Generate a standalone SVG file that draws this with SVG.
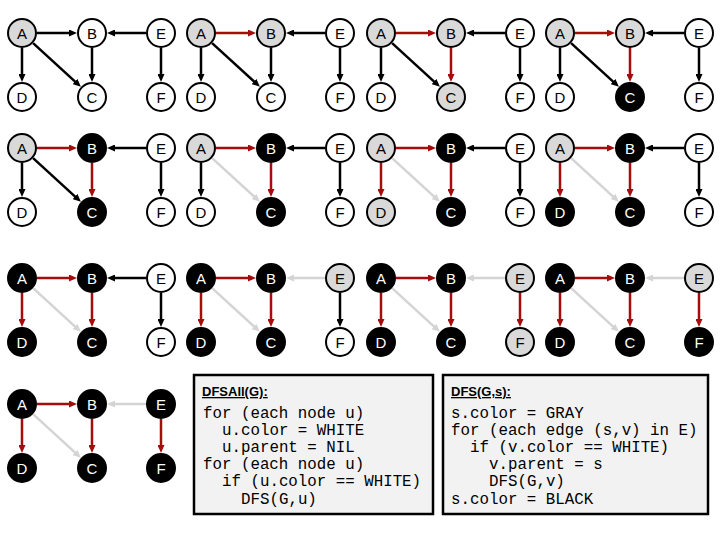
<svg xmlns="http://www.w3.org/2000/svg" width="720" height="540" viewBox="0 0 720 540">
<style>
.n circle{stroke:#000;stroke-width:2}
.n text{font-family:"Liberation Sans",Arial,sans-serif;font-size:15px;text-anchor:middle}
.w circle{fill:#fff}.w text{fill:#000}
.g circle{fill:#d9d9d9}.g text{fill:#000}
.k circle{fill:#000}.k text{fill:#fff}
.e{stroke:#000;stroke-width:2.5;marker-end:url(#ak)}
.r{stroke:#a50d0d;stroke-width:2.5;marker-end:url(#ar)}
.l{stroke:#d4d4d4;stroke-width:2.5;marker-end:url(#al)}
.box{fill:#f2f2f2;stroke:#000;stroke-width:2.5}
.hd{font-family:"Liberation Sans",Arial,sans-serif;font-size:13px;font-weight:bold;text-decoration:underline}
.code{font-family:"Liberation Mono","Courier New",monospace;font-size:15.8px;fill:#000}
</style>
<defs>
<marker id="ak" markerUnits="userSpaceOnUse" markerWidth="8" markerHeight="7" refX="2" refY="3.5" orient="auto"><path d="M0,0 L8,3.5 L0,7z" fill="#000"/></marker>
<marker id="ar" markerUnits="userSpaceOnUse" markerWidth="8" markerHeight="7" refX="2" refY="3.5" orient="auto"><path d="M0,0 L8,3.5 L0,7z" fill="#a50d0d"/></marker>
<marker id="al" markerUnits="userSpaceOnUse" markerWidth="8" markerHeight="7" refX="2" refY="3.5" orient="auto"><path d="M0,0 L8,3.5 L0,7z" fill="#d4d4d4"/></marker>
</defs>
<rect width="720" height="540" fill="#fff"/>
<g id="connectors">
<g transform="translate(22,33)"><line class="e" x1="15" y1="0" x2="49" y2="0"/><line class="e" x1="124" y1="0" x2="91" y2="0"/><line class="e" x1="0" y1="15" x2="0" y2="43"/><line class="e" x1="70" y1="15" x2="70" y2="43"/><line class="e" x1="139" y1="15" x2="139" y2="43"/><line class="e" x1="11.1" y1="10.1" x2="54.5" y2="49.8"/></g>
<g transform="translate(201,33)"><line class="r" x1="15" y1="0" x2="49" y2="0"/><line class="e" x1="124" y1="0" x2="91" y2="0"/><line class="e" x1="0" y1="15" x2="0" y2="43"/><line class="e" x1="70" y1="15" x2="70" y2="43"/><line class="e" x1="139" y1="15" x2="139" y2="43"/><line class="e" x1="11.1" y1="10.1" x2="54.5" y2="49.8"/></g>
<g transform="translate(381,33)"><line class="r" x1="15" y1="0" x2="49" y2="0"/><line class="e" x1="124" y1="0" x2="91" y2="0"/><line class="e" x1="0" y1="15" x2="0" y2="43"/><line class="r" x1="70" y1="15" x2="70" y2="43"/><line class="e" x1="139" y1="15" x2="139" y2="43"/><line class="e" x1="11.1" y1="10.1" x2="54.5" y2="49.8"/></g>
<g transform="translate(560,33)"><line class="r" x1="15" y1="0" x2="49" y2="0"/><line class="e" x1="124" y1="0" x2="91" y2="0"/><line class="e" x1="0" y1="15" x2="0" y2="43"/><line class="r" x1="70" y1="15" x2="70" y2="43"/><line class="e" x1="139" y1="15" x2="139" y2="43"/><line class="e" x1="11.1" y1="10.1" x2="54.5" y2="49.8"/></g>
<g transform="translate(22,148)"><line class="r" x1="15" y1="0" x2="49" y2="0"/><line class="e" x1="124" y1="0" x2="91" y2="0"/><line class="e" x1="0" y1="15" x2="0" y2="43"/><line class="r" x1="70" y1="15" x2="70" y2="43"/><line class="e" x1="139" y1="15" x2="139" y2="43"/><line class="e" x1="11.1" y1="10.1" x2="54.5" y2="49.8"/></g>
<g transform="translate(201,148)"><line class="r" x1="15" y1="0" x2="49" y2="0"/><line class="e" x1="124" y1="0" x2="91" y2="0"/><line class="e" x1="0" y1="15" x2="0" y2="43"/><line class="r" x1="70" y1="15" x2="70" y2="43"/><line class="e" x1="139" y1="15" x2="139" y2="43"/><line class="l" x1="11.1" y1="10.1" x2="54.5" y2="49.8"/></g>
<g transform="translate(381,148)"><line class="r" x1="15" y1="0" x2="49" y2="0"/><line class="e" x1="124" y1="0" x2="91" y2="0"/><line class="r" x1="0" y1="15" x2="0" y2="43"/><line class="r" x1="70" y1="15" x2="70" y2="43"/><line class="e" x1="139" y1="15" x2="139" y2="43"/><line class="l" x1="11.1" y1="10.1" x2="54.5" y2="49.8"/></g>
<g transform="translate(560,148)"><line class="r" x1="15" y1="0" x2="49" y2="0"/><line class="e" x1="124" y1="0" x2="91" y2="0"/><line class="r" x1="0" y1="15" x2="0" y2="43"/><line class="r" x1="70" y1="15" x2="70" y2="43"/><line class="e" x1="139" y1="15" x2="139" y2="43"/><line class="l" x1="11.1" y1="10.1" x2="54.5" y2="49.8"/></g>
<g transform="translate(22,278)"><line class="r" x1="15" y1="0" x2="49" y2="0"/><line class="e" x1="124" y1="0" x2="91" y2="0"/><line class="r" x1="0" y1="15" x2="0" y2="43"/><line class="r" x1="70" y1="15" x2="70" y2="43"/><line class="e" x1="139" y1="15" x2="139" y2="43"/><line class="l" x1="11.1" y1="10.1" x2="54.5" y2="49.8"/></g>
<g transform="translate(201,278)"><line class="r" x1="15" y1="0" x2="49" y2="0"/><line class="l" x1="124" y1="0" x2="91" y2="0"/><line class="r" x1="0" y1="15" x2="0" y2="43"/><line class="r" x1="70" y1="15" x2="70" y2="43"/><line class="e" x1="139" y1="15" x2="139" y2="43"/><line class="l" x1="11.1" y1="10.1" x2="54.5" y2="49.8"/></g>
<g transform="translate(381,278)"><line class="r" x1="15" y1="0" x2="49" y2="0"/><line class="l" x1="124" y1="0" x2="91" y2="0"/><line class="r" x1="0" y1="15" x2="0" y2="43"/><line class="r" x1="70" y1="15" x2="70" y2="43"/><line class="r" x1="139" y1="15" x2="139" y2="43"/><line class="l" x1="11.1" y1="10.1" x2="54.5" y2="49.8"/></g>
<g transform="translate(560,278)"><line class="r" x1="15" y1="0" x2="49" y2="0"/><line class="l" x1="124" y1="0" x2="91" y2="0"/><line class="r" x1="0" y1="15" x2="0" y2="43"/><line class="r" x1="70" y1="15" x2="70" y2="43"/><line class="r" x1="139" y1="15" x2="139" y2="43"/><line class="l" x1="11.1" y1="10.1" x2="54.5" y2="49.8"/></g>
<g transform="translate(22,404)"><line class="r" x1="15" y1="0" x2="49" y2="0"/><line class="l" x1="124" y1="0" x2="91" y2="0"/><line class="r" x1="0" y1="15" x2="0" y2="43"/><line class="r" x1="70" y1="15" x2="70" y2="43"/><line class="r" x1="139" y1="15" x2="139" y2="43"/><line class="l" x1="11.1" y1="10.1" x2="54.5" y2="49.8"/></g>
</g>
<g id="panel1" transform="translate(22,33)">
<g id="p1-A" class="n g"><circle cx="0" cy="0" r="14"/><text x="0" y="5.5">A</text></g>
<g id="p1-B" class="n w"><circle cx="70" cy="0" r="14"/><text x="70" y="5.5">B</text></g>
<g id="p1-E" class="n w"><circle cx="139" cy="0" r="14"/><text x="139" y="5.5">E</text></g>
<g id="p1-D" class="n w"><circle cx="0" cy="64" r="14"/><text x="0" y="69.5">D</text></g>
<g id="p1-C" class="n w"><circle cx="70" cy="64" r="14"/><text x="70" y="69.5">C</text></g>
<g id="p1-F" class="n w"><circle cx="139" cy="64" r="14"/><text x="139" y="69.5">F</text></g>
</g>
<g id="panel2" transform="translate(201,33)">
<g id="p2-A" class="n g"><circle cx="0" cy="0" r="14"/><text x="0" y="5.5">A</text></g>
<g id="p2-B" class="n g"><circle cx="70" cy="0" r="14"/><text x="70" y="5.5">B</text></g>
<g id="p2-E" class="n w"><circle cx="139" cy="0" r="14"/><text x="139" y="5.5">E</text></g>
<g id="p2-D" class="n w"><circle cx="0" cy="64" r="14"/><text x="0" y="69.5">D</text></g>
<g id="p2-C" class="n w"><circle cx="70" cy="64" r="14"/><text x="70" y="69.5">C</text></g>
<g id="p2-F" class="n w"><circle cx="139" cy="64" r="14"/><text x="139" y="69.5">F</text></g>
</g>
<g id="panel3" transform="translate(381,33)">
<g id="p3-A" class="n g"><circle cx="0" cy="0" r="14"/><text x="0" y="5.5">A</text></g>
<g id="p3-B" class="n g"><circle cx="70" cy="0" r="14"/><text x="70" y="5.5">B</text></g>
<g id="p3-E" class="n w"><circle cx="139" cy="0" r="14"/><text x="139" y="5.5">E</text></g>
<g id="p3-D" class="n w"><circle cx="0" cy="64" r="14"/><text x="0" y="69.5">D</text></g>
<g id="p3-C" class="n g"><circle cx="70" cy="64" r="14"/><text x="70" y="69.5">C</text></g>
<g id="p3-F" class="n w"><circle cx="139" cy="64" r="14"/><text x="139" y="69.5">F</text></g>
</g>
<g id="panel4" transform="translate(560,33)">
<g id="p4-A" class="n g"><circle cx="0" cy="0" r="14"/><text x="0" y="5.5">A</text></g>
<g id="p4-B" class="n g"><circle cx="70" cy="0" r="14"/><text x="70" y="5.5">B</text></g>
<g id="p4-E" class="n w"><circle cx="139" cy="0" r="14"/><text x="139" y="5.5">E</text></g>
<g id="p4-D" class="n w"><circle cx="0" cy="64" r="14"/><text x="0" y="69.5">D</text></g>
<g id="p4-C" class="n k"><circle cx="70" cy="64" r="14"/><text x="70" y="69.5">C</text></g>
<g id="p4-F" class="n w"><circle cx="139" cy="64" r="14"/><text x="139" y="69.5">F</text></g>
</g>
<g id="panel5" transform="translate(22,148)">
<g id="p5-A" class="n g"><circle cx="0" cy="0" r="14"/><text x="0" y="5.5">A</text></g>
<g id="p5-B" class="n k"><circle cx="70" cy="0" r="14"/><text x="70" y="5.5">B</text></g>
<g id="p5-E" class="n w"><circle cx="139" cy="0" r="14"/><text x="139" y="5.5">E</text></g>
<g id="p5-D" class="n w"><circle cx="0" cy="64" r="14"/><text x="0" y="69.5">D</text></g>
<g id="p5-C" class="n k"><circle cx="70" cy="64" r="14"/><text x="70" y="69.5">C</text></g>
<g id="p5-F" class="n w"><circle cx="139" cy="64" r="14"/><text x="139" y="69.5">F</text></g>
</g>
<g id="panel6" transform="translate(201,148)">
<g id="p6-A" class="n g"><circle cx="0" cy="0" r="14"/><text x="0" y="5.5">A</text></g>
<g id="p6-B" class="n k"><circle cx="70" cy="0" r="14"/><text x="70" y="5.5">B</text></g>
<g id="p6-E" class="n w"><circle cx="139" cy="0" r="14"/><text x="139" y="5.5">E</text></g>
<g id="p6-D" class="n w"><circle cx="0" cy="64" r="14"/><text x="0" y="69.5">D</text></g>
<g id="p6-C" class="n k"><circle cx="70" cy="64" r="14"/><text x="70" y="69.5">C</text></g>
<g id="p6-F" class="n w"><circle cx="139" cy="64" r="14"/><text x="139" y="69.5">F</text></g>
</g>
<g id="panel7" transform="translate(381,148)">
<g id="p7-A" class="n g"><circle cx="0" cy="0" r="14"/><text x="0" y="5.5">A</text></g>
<g id="p7-B" class="n k"><circle cx="70" cy="0" r="14"/><text x="70" y="5.5">B</text></g>
<g id="p7-E" class="n w"><circle cx="139" cy="0" r="14"/><text x="139" y="5.5">E</text></g>
<g id="p7-D" class="n g"><circle cx="0" cy="64" r="14"/><text x="0" y="69.5">D</text></g>
<g id="p7-C" class="n k"><circle cx="70" cy="64" r="14"/><text x="70" y="69.5">C</text></g>
<g id="p7-F" class="n w"><circle cx="139" cy="64" r="14"/><text x="139" y="69.5">F</text></g>
</g>
<g id="panel8" transform="translate(560,148)">
<g id="p8-A" class="n g"><circle cx="0" cy="0" r="14"/><text x="0" y="5.5">A</text></g>
<g id="p8-B" class="n k"><circle cx="70" cy="0" r="14"/><text x="70" y="5.5">B</text></g>
<g id="p8-E" class="n w"><circle cx="139" cy="0" r="14"/><text x="139" y="5.5">E</text></g>
<g id="p8-D" class="n k"><circle cx="0" cy="64" r="14"/><text x="0" y="69.5">D</text></g>
<g id="p8-C" class="n k"><circle cx="70" cy="64" r="14"/><text x="70" y="69.5">C</text></g>
<g id="p8-F" class="n w"><circle cx="139" cy="64" r="14"/><text x="139" y="69.5">F</text></g>
</g>
<g id="panel9" transform="translate(22,278)">
<g id="p9-A" class="n k"><circle cx="0" cy="0" r="14"/><text x="0" y="5.5">A</text></g>
<g id="p9-B" class="n k"><circle cx="70" cy="0" r="14"/><text x="70" y="5.5">B</text></g>
<g id="p9-E" class="n w"><circle cx="139" cy="0" r="14"/><text x="139" y="5.5">E</text></g>
<g id="p9-D" class="n k"><circle cx="0" cy="64" r="14"/><text x="0" y="69.5">D</text></g>
<g id="p9-C" class="n k"><circle cx="70" cy="64" r="14"/><text x="70" y="69.5">C</text></g>
<g id="p9-F" class="n w"><circle cx="139" cy="64" r="14"/><text x="139" y="69.5">F</text></g>
</g>
<g id="panel10" transform="translate(201,278)">
<g id="p10-A" class="n k"><circle cx="0" cy="0" r="14"/><text x="0" y="5.5">A</text></g>
<g id="p10-B" class="n k"><circle cx="70" cy="0" r="14"/><text x="70" y="5.5">B</text></g>
<g id="p10-E" class="n g"><circle cx="139" cy="0" r="14"/><text x="139" y="5.5">E</text></g>
<g id="p10-D" class="n k"><circle cx="0" cy="64" r="14"/><text x="0" y="69.5">D</text></g>
<g id="p10-C" class="n k"><circle cx="70" cy="64" r="14"/><text x="70" y="69.5">C</text></g>
<g id="p10-F" class="n w"><circle cx="139" cy="64" r="14"/><text x="139" y="69.5">F</text></g>
</g>
<g id="panel11" transform="translate(381,278)">
<g id="p11-A" class="n k"><circle cx="0" cy="0" r="14"/><text x="0" y="5.5">A</text></g>
<g id="p11-B" class="n k"><circle cx="70" cy="0" r="14"/><text x="70" y="5.5">B</text></g>
<g id="p11-E" class="n g"><circle cx="139" cy="0" r="14"/><text x="139" y="5.5">E</text></g>
<g id="p11-D" class="n k"><circle cx="0" cy="64" r="14"/><text x="0" y="69.5">D</text></g>
<g id="p11-C" class="n k"><circle cx="70" cy="64" r="14"/><text x="70" y="69.5">C</text></g>
<g id="p11-F" class="n g"><circle cx="139" cy="64" r="14"/><text x="139" y="69.5">F</text></g>
</g>
<g id="panel12" transform="translate(560,278)">
<g id="p12-A" class="n k"><circle cx="0" cy="0" r="14"/><text x="0" y="5.5">A</text></g>
<g id="p12-B" class="n k"><circle cx="70" cy="0" r="14"/><text x="70" y="5.5">B</text></g>
<g id="p12-E" class="n g"><circle cx="139" cy="0" r="14"/><text x="139" y="5.5">E</text></g>
<g id="p12-D" class="n k"><circle cx="0" cy="64" r="14"/><text x="0" y="69.5">D</text></g>
<g id="p12-C" class="n k"><circle cx="70" cy="64" r="14"/><text x="70" y="69.5">C</text></g>
<g id="p12-F" class="n k"><circle cx="139" cy="64" r="14"/><text x="139" y="69.5">F</text></g>
</g>
<g id="panel13" transform="translate(22,404)">
<g id="p13-A" class="n k"><circle cx="0" cy="0" r="14"/><text x="0" y="5.5">A</text></g>
<g id="p13-B" class="n k"><circle cx="70" cy="0" r="14"/><text x="70" y="5.5">B</text></g>
<g id="p13-E" class="n k"><circle cx="139" cy="0" r="14"/><text x="139" y="5.5">E</text></g>
<g id="p13-D" class="n k"><circle cx="0" cy="64" r="14"/><text x="0" y="69.5">D</text></g>
<g id="p13-C" class="n k"><circle cx="70" cy="64" r="14"/><text x="70" y="69.5">C</text></g>
<g id="p13-F" class="n k"><circle cx="139" cy="64" r="14"/><text x="139" y="69.5">F</text></g>
</g>
<g id="dfsall">
<rect class="box" x="194" y="375" width="239" height="139"/>
<text class="hd" x="202" y="396">DFSAll(G):</text>
<text class="code" x="203" y="417.5">for (each node u)</text>
<text class="code" x="222" y="434.7">u.color = WHITE</text>
<text class="code" x="222" y="451.9">u.parent = NIL</text>
<text class="code" x="203" y="469.1">for (each node u)</text>
<text class="code" x="222" y="486.3">if (u.color == WHITE)</text>
<text class="code" x="241" y="503.5">DFS(G,u)</text>
</g>
<g id="dfs">
<rect class="box" x="443" y="375" width="265" height="139"/>
<text class="hd" x="451" y="396">DFS(G,s):</text>
<text class="code" x="451" y="417.5">s.color = GRAY</text>
<text class="code" x="451" y="434.7">for (each edge (s,v) in E)</text>
<text class="code" x="470" y="451.9">if (v.color == WHITE)</text>
<text class="code" x="489" y="469.1">v.parent = s</text>
<text class="code" x="489" y="486.3">DFS(G,v)</text>
<text class="code" x="451" y="503.5">s.color = BLACK</text>
</g>
</svg>
